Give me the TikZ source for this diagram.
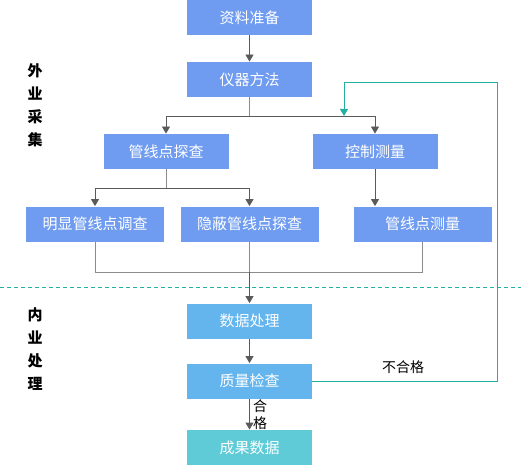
\documentclass[tikz,border=0pt]{standalone}
\usepackage{fontspec}
\setmainfont{Noto Sans CJK SC}
\usetikzlibrary{positioning, arrows.meta}

\definecolor{boxblue}{HTML}{6F9CF0}
\definecolor{skyblue}{HTML}{64B4EE}
\definecolor{resultcyan}{HTML}{5FCBD6}
\definecolor{loopteal}{HTML}{22B0A2}
\definecolor{linegray}{HTML}{8C8C8C}
\definecolor{arrowgray}{HTML}{5A5A5A}

\tikzset{
    box/.style={fill=boxblue, text=white, minimum width=125pt, minimum height=35pt, inner sep=0pt,
        font=\fontsize{15}{17}\selectfont},
    widebox/.style={box, minimum width=138pt},
    flow/.style={draw=arrowgray, -{Triangle[length=7pt, width=8pt]}},
    plain/.style={draw=linegray},
    phase/.style={align=center, font=\fontsize{15}{23}\selectfont\bfseries},
}

\begin{document}
\begin{tikzpicture}[x=1pt, y=-1pt, font=\fontsize{14}{16}\selectfont, line width=0.8pt]
    \useasboundingbox (0,0) rectangle (521,465);

    % Nodes
    \node[box] (Prep) at (249.5,17.5) {资料准备};
    \node[box] (Method) at (249.5,79.5) {仪器方法};
    \node[box] (Probe) at (166,151.5) {管线点探查};
    \node[box] (Control) at (375,151.5) {控制测量};
    \node[widebox] (Obvious) at (95,224) {明显管线点调查};
    \node[widebox] (Hidden) at (249.5,224) {隐蔽管线点探查};
    \node[widebox] (Survey) at (422.5,224) {管线点测量};
    \node[box, fill=skyblue] (Process) at (249.5,321) {数据处理};
    \node[box, fill=skyblue] (Check) at (249.5,381) {质量检查};
    \node[box, fill=resultcyan] (Result) at (249.5,447.5) {成果数据};

    \node[phase] (Field) at (35,105) {外\\业\\采\\集};
    \node[phase] (Office) at (35,349) {内\\业\\处\\理};
    \node (Fail) at (403,367) {不合格};

    \coordinate (SplitA) at (249.5,116);
    \coordinate (SplitB) at (166,188);
    \coordinate (Merge) at (249.5,272);
    \coordinate (LoopR) at (497,82);
    \coordinate (LoopL) at (344,82);
    \coordinate (SepL) at (0,287);
    \coordinate (SepR) at (521,287);

    % Paths
    \path[flow] (Prep) -- (Method);
    \path[plain] (Method) -- (SplitA);
    \path[flow] (SplitA) -| (Probe);
    \path[flow] (SplitA) -| (Control);
    \path[plain] (Probe) -- (SplitB);
    \path[flow] (SplitB) -| (Obvious);
    \path[flow] (SplitB) -| (Hidden);
    \path[flow] (Control) -- (Control |- Survey.north);

    \path[plain] (Obvious) |- (Merge);
    \path[plain] (Survey) |- (Merge);
    \path[plain] (Hidden) -- (Merge);
    \path[flow] (Merge) -- (Process);

    \path[flow] (Process) -- (Check);
    \path[flow] (Check) -- node[right, align=center, font=\fontsize{14}{17}\selectfont] {合\\格} (Result);

    \path[draw=loopteal, -{Triangle[length=7pt, width=8pt]}] (Check.east) -| (LoopR) -- (LoopL) -- (LoopL |- SplitA);

    \draw[loopteal, dash pattern=on 4pt off 3pt] (SepL) -- (SepR);
\end{tikzpicture}
\end{document}
